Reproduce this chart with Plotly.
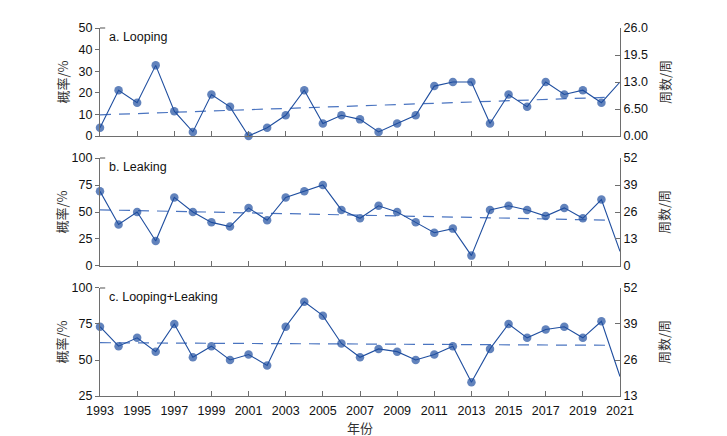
import plotly.graph_objects as go

years = list(range(1993, 2022))

looping = [3.8, 21.2, 15.4, 32.7, 11.5, 1.9, 19.2, 13.5, 0.0, 3.8, 9.6, 21.2, 5.8, 9.6,
           7.7, 1.9, 5.8, 9.6, 23.1, 25.0, 25.0, 5.8, 19.2, 13.5, 25.0, 19.2, 21.2, 15.4, 25.0]
leaking = [69.2, 38.5, 50.0, 23.1, 63.5, 50.0, 40.4, 36.5, 53.8, 42.3, 63.5, 69.2, 75.0, 51.9,
           44.2, 55.8, 50.0, 40.4, 30.8, 34.6, 9.6, 51.9, 55.8, 51.9, 46.2, 53.8, 44.2, 61.5, 13.5]
both = [73.1, 59.6, 65.4, 55.8, 75.0, 51.9, 59.6, 50.0, 53.8, 46.2, 73.1, 90.4, 80.8, 61.5,
        51.9, 57.7, 55.8, 50.0, 53.8, 59.6, 34.6, 57.7, 75.0, 65.4, 71.2, 73.1, 65.4, 76.9, 38.5]

trend_x = [1993, 2020.6]
trend_a = [9.8, 18.0]
trend_b = [52.0, 42.3]
trend_c = [62.0, 60.2]

panel_labels = ["a. Looping", "b. Leaking", "c. Looping+Leaking"]

left_ranges = [[0, 50], [0, 100], [25, 100]]
left_ticks = [[0, 10, 20, 30, 40, 50], [0, 25, 50, 75, 100], [25, 50, 75, 100]]
right_ranges = [[0, 26], [0, 52], [13, 52]]
right_ticks = [[0, 6.5, 13, 19.5, 26], [0, 13, 26, 39, 52], [13, 26, 39, 52]]
right_ticktext = [["0.00", "6.50", "13.0", "19.5", "26.0"], ["0", "13", "26", "39", "52"],
                  ["13", "26", "39", "52"]]
x_ticks = list(range(1993, 2022, 2))

LINE = "#1f4e9f"
DASH = "#4a74c0"
AXIS = "#6e6e6e"
FONT = "Liberation Sans, Arial, sans-serif"
CJK = "Noto Sans CJK SC, sans-serif"

domains = [[0.7065, 1.0], [0.3533, 0.6467], [0.0, 0.2935]]

fig = go.Figure()
series = [looping, leaking, both]
trends = [trend_a, trend_b, trend_c]
msizes = [8.5] * (len(years) - 1) + [0]

for i in range(3):
    xa = "x" if i == 0 else f"x{i+1}"
    ya = "y" if i == 0 else f"y{i+1}"
    yr = f"y{i+4}"
    fig.add_trace(go.Scatter(x=trend_x, y=trends[i], mode="lines", xaxis=xa, yaxis=ya,
                             line=dict(color=DASH, width=1.2, dash="11px,8px"),
                             showlegend=False, hoverinfo="skip"))
    fig.add_trace(go.Scatter(x=years, y=series[i], mode="lines+markers", xaxis=xa, yaxis=ya,
                             line=dict(color=LINE, width=1.1),
                             marker=dict(color=LINE, size=msizes, line=dict(width=0)),
                             showlegend=False, cliponaxis=False))
    fig.add_trace(go.Scatter(x=[None], y=[None], xaxis=xa, yaxis=yr, showlegend=False,
                             hoverinfo="skip"))

layout = dict(
    width=727, height=436,
    margin=dict(l=92, r=115, t=20, b=48),
    paper_bgcolor="white", plot_bgcolor="white",
    font=dict(family=FONT, size=12, color="#111111"),
    showlegend=False,
)

for i in range(3):
    xk = "xaxis" if i == 0 else f"xaxis{i+1}"
    yk = "yaxis" if i == 0 else f"yaxis{i+1}"
    rk = f"yaxis{i+4}"
    ya = "y" if i == 0 else f"y{i+1}"
    xa = "x" if i == 0 else f"x{i+1}"
    layout[xk] = dict(domain=[0, 1], anchor=ya, range=[1993, 2021], tickvals=x_ticks,
                      ticks="inside", ticklen=5, tickcolor=AXIS, showline=True,
                      linecolor=AXIS, linewidth=1.2, showgrid=False, zeroline=False,
                      showticklabels=(i == 2), tickfont=dict(size=12.5, family=FONT),
                      ticklabelstandoff=3,
                      matches=None if i == 0 else "x")
    layout[yk] = dict(domain=domains[i], anchor=xa, range=left_ranges[i],
                      tickvals=left_ticks[i], ticks="outside", ticklen=4, tickcolor=AXIS,
                      showline=True, linecolor=AXIS, linewidth=1.2, showgrid=False,
                      zeroline=False, tickfont=dict(size=12.5, family=FONT))
    layout[rk] = dict(overlaying=ya, side="right", anchor=xa, range=right_ranges[i],
                      tickvals=right_ticks[i], ticktext=right_ticktext[i], ticks="inside",
                      ticklen=5, tickcolor=AXIS, showline=True, linecolor=AXIS,
                      linewidth=1.2, showgrid=False, zeroline=False,
                      tickfont=dict(size=12.5, family=FONT))

fig.update_layout(**layout)

for i in range(3):
    ya = "y" if i == 0 else f"y{i+1}"
    xa = "x" if i == 0 else f"x{i+1}"
    fig.add_annotation(text=panel_labels[i], xref=f"{xa} domain", yref=f"{ya} domain",
                       x=0.013, y=1.0, xanchor="left", yanchor="top", showarrow=False,
                       font=dict(size=12.5, family=FONT, color="#111111"))
    fig.add_annotation(text="概率/%", xref="paper", yref=f"{ya} domain", x=-0.074, y=0.5,
                       xanchor="center", yanchor="middle", textangle=-90, showarrow=False,
                       font=dict(size=13, family=CJK, color="#333333"))
    fig.add_annotation(text="周数/周", xref="paper", yref=f"{ya} domain", x=1.0846, y=0.5,
                       xanchor="center", yanchor="middle", textangle=-90, showarrow=False,
                       font=dict(size=13, family=CJK, color="#333333"))
    # short inward stub at top of the left axis
    fig.add_shape(type="line", xref=f"{xa} domain", yref=f"{ya} domain",
                  x0=0, x1=0.01, y0=1, y1=1, line=dict(color=AXIS, width=1.2))

fig.add_annotation(text="年份", xref="paper", yref="paper", x=0.5, y=-0.085,
                   yanchor="middle", showarrow=False,
                   font=dict(size=13, family=CJK, color="#333333"))

fig.write_html("out.html")
